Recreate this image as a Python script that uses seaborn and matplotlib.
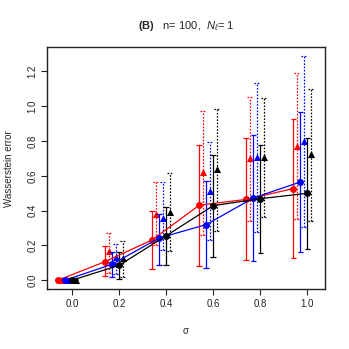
import numpy as np
import pandas as pd
import seaborn as sns
import matplotlib.pyplot as plt

sigma = [0.0, 0.2, 0.4, 0.6, 0.8, 1.0]
groups = ["red", "blue", "black"]

# circles (solid error bars, joined by lines)
circ_mean = {"red": [0.0, 0.107, 0.232, 0.431, 0.465, 0.527],
             "blue": [0.0, 0.092, 0.243, 0.320, 0.473, 0.565],
             "black": [0.0, 0.086, 0.256, 0.429, 0.469, 0.500]}
circ_lo = {"red": [0.0, 0.022, 0.063, 0.082, 0.115, 0.126],
           "blue": [0.0, 0.020, 0.088, 0.069, 0.111, 0.163],
           "black": [0.0, 0.006, 0.088, 0.134, 0.159, 0.182]}
circ_hi = {"red": [0.006, 0.197, 0.400, 0.777, 0.816, 0.929],
           "blue": [0.006, 0.160, 0.380, 0.572, 0.833, 0.967],
           "black": [0.006, 0.164, 0.423, 0.720, 0.780, 0.820]}

# triangles (dotted error bars)
tri_mean = {"red": [0.004, 0.168, 0.380, 0.622, 0.705, 0.774],
            "blue": [0.004, 0.136, 0.360, 0.515, 0.710, 0.800],
            "black": [0.004, 0.130, 0.393, 0.642, 0.709, 0.724]}
tri_lo = {"red": [0.0, 0.040, 0.200, 0.259, 0.343, 0.350],
          "blue": [0.0, 0.036, 0.174, 0.232, 0.278, 0.305],
          "black": [0.0, 0.020, 0.168, 0.283, 0.366, 0.340]}
tri_hi = {"red": [0.010, 0.270, 0.563, 0.973, 1.055, 1.193],
          "blue": [0.010, 0.210, 0.563, 0.797, 1.136, 1.289],
          "black": [0.010, 0.228, 0.615, 0.986, 1.050, 1.101]}

offset = {"red": -0.06, "blue": -0.03, "black": 0.0}
tri_shift = 0.015
cap_w = 0.012
colors = {"red": "#FF0000", "blue": "#0000FF", "black": "#000000"}

rows = []
for g in groups:
    for i, s in enumerate(sigma):
        rows.append(dict(group=g, kind="circle", x=s + offset[g], y=circ_mean[g][i],
                         lo=circ_lo[g][i], hi=circ_hi[g][i]))
        rows.append(dict(group=g, kind="triangle", x=s + offset[g] + tri_shift, y=tri_mean[g][i],
                         lo=tri_lo[g][i], hi=tri_hi[g][i]))
df = pd.DataFrame(rows)

sns.set_style("ticks")
plt.rcParams["font.family"] = ["Liberation Sans", "DejaVu Sans"]
plt.rcParams["mathtext.fontset"] = "custom"
plt.rcParams["mathtext.rm"] = "Liberation Sans"
plt.rcParams["mathtext.it"] = "Liberation Sans:italic"
plt.rcParams["mathtext.bf"] = "Liberation Sans:bold"

fig = plt.figure(figsize=(3.49, 3.49), dpi=100)
ax = fig.add_axes([0.1355, 0.171, 0.7955, 0.6935])

dots = (0, (1.3, 1.3))
for g in groups:
    c = df[(df.group == g) & (df.kind == "circle")]
    t = df[(df.group == g) & (df.kind == "triangle")]
    # solid bars for circles
    ax.vlines(c.x, c.lo, c.hi, color=colors[g], linewidth=0.9)
    ax.hlines(c.lo, c.x - cap_w, c.x + cap_w, color=colors[g], linewidth=0.9)
    ax.hlines(c.hi, c.x - cap_w, c.x + cap_w, color=colors[g], linewidth=0.9)
    # dotted bars for triangles
    ax.vlines(t.x, t.lo, t.hi, color=colors[g], linewidth=0.9, linestyles=[dots])
    ax.hlines(t.lo, t.x - cap_w, t.x + cap_w, color=colors[g], linewidth=0.9, linestyles=[dots])
    ax.hlines(t.hi, t.x - cap_w, t.x + cap_w, color=colors[g], linewidth=0.9, linestyles=[dots])

for g in groups:
    c = df[(df.group == g) & (df.kind == "circle")]
    t = df[(df.group == g) & (df.kind == "triangle")]
    sns.lineplot(data=c, x="x", y="y", color=colors[g], marker="o", markersize=5,
                 markeredgewidth=0, linewidth=0.9, sort=False, estimator=None, ax=ax)
    sns.scatterplot(data=t, x="x", y="y", color=colors[g], marker="^", s=26,
                    linewidth=0, ax=ax)

ax.set_xlim(-0.105, 1.074)
ax.set_ylim(-0.052, 1.339)
ax.set_xticks(sigma)
ax.set_xticklabels([f"{v:.1f}" for v in sigma])
yt = [0.0, 0.2, 0.4, 0.6, 0.8, 1.0, 1.2]
ax.set_yticks(yt)
ax.set_yticklabels([f"{v:.1f}" for v in yt], rotation=90, va="center")
ax.tick_params(direction="out", length=4, width=0.8, labelsize=7, pad=3,
               colors="#222222", labelcolor="#222222")
for sp in ax.spines.values():
    sp.set_visible(True)
    sp.set_linewidth(1.0)
    sp.set_color("#222222")

ax.set_xlabel("σ", fontsize=7, labelpad=12)
ax.set_ylabel("Wasserstein error", fontsize=7, labelpad=10)
ax.set_title(r"$\mathbf{(B)}$   n= 100,  $N_\ell$= 1", fontsize=8, pad=13)

fig.savefig("out.png", dpi=100)
